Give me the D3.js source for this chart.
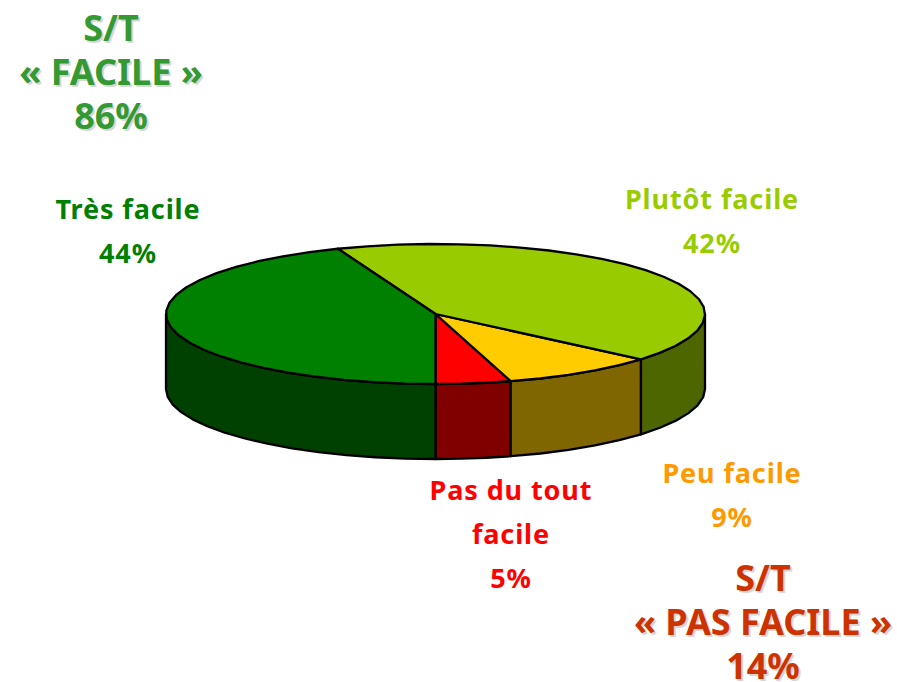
<!DOCTYPE html>
<html><head><meta charset="utf-8">
<script src="https://cdn.jsdelivr.net/npm/d3@7"></script>
<style>
html,body{margin:0;padding:0;background:#fff;overflow:hidden}
text{font-family:"Noto Sans",sans-serif;font-weight:700;text-anchor:middle}
.lab{letter-spacing:.9px}
.grp{text-shadow:2px 2px 1px #d4d4d4}
</style></head><body>
<svg id="c" width="897" height="682"></svg>
<script>
const categories=["Pas du tout facile","Peu facile","Plutôt facile","Très facile"];
const values=[4.5,9.3,42.1,44.1];
const topColors=["#FF0000","#FFCC00","#99CC00","#008000"];
const sideColors=["#800000","#806600","#4D6600","#004000"];
const labelLines=[["Pas du tout","facile","5%"],["Peu facile","9%"],["Plutôt facile","42%"],["Très facile","44%"]];
const labelColors=["#FF0000","#FF9900","#99CC00","#008000"];
const labelX=[511,732,712,128];
const labelY=[500,483,209,219];
const labelStep=[44,44,44,44];
const groupLines=[["S/T","« FACILE »","86%"],["S/T","« PAS FACILE »","14%"]];
const groupColors=["#339933","#CC3300"];
const groupX=[111,763];
const groupY=[41,591];

const svg=d3.select("#c");
// unit-disc projection -> page pixels
const x=d3.scaleLinear().domain([-1,1]).range([166,705]);
const y=d3.scaleLinear().domain([-1,1]).range([244,384]);
const depth=75;
const arcs=d3.pie().sort(null).startAngle(0).endAngle(2*Math.PI)(values);
const px=a=>x(Math.sin(a)), py=a=>y(Math.cos(a));
const samples=(a0,a1)=>{const n=Math.max(2,Math.ceil((a1-a0)/0.12));return d3.range(n+1).map(i=>a0+(a1-a0)*i/n)};
const line=d3.line();
const sideG=svg.append("g"),topG=svg.append("g");
function style(s,fill){s.attr("fill",fill).attr("stroke","#000").attr("stroke-width",2.3).attr("stroke-linejoin","round")}
const H=Math.PI/2;
arcs.forEach((d,i)=>{
  [[0,H],[3*H,4*H]].forEach(([lo,hi])=>{
    const a0=Math.max(d.startAngle,lo),a1=Math.min(d.endAngle,hi);
    if(a1<=a0)return;
    const s=samples(a0,a1);
    const pts=s.map(a=>[px(a),py(a)]).concat(s.slice().reverse().map(a=>[px(a),py(a)+depth]));
    style(sideG.append("path").attr("d",line(pts)+"Z"),sideColors[i]);
  });
  const pts=[[x(0),y(0)]].concat(samples(d.startAngle,d.endAngle).map(a=>[px(a),py(a)]));
  style(topG.append("path").attr("d",line(pts)+"Z"),topColors[i]);
});
const tg=svg.append("g");
categories.forEach((c,i)=>{
  labelLines[i].forEach((t,j)=>tg.append("text").attr("class","lab").attr("x",labelX[i]).attr("y",labelY[i]+j*labelStep[i]).attr("font-size",27).attr("fill",labelColors[i]).text(t));
});
groupLines.forEach((ls,i)=>ls.forEach((t,j)=>tg.append("text").attr("class","grp").attr("x",groupX[i]).attr("y",groupY[i]+j*44).attr("font-size",36).attr("fill",groupColors[i]).text(t)));
</script></body></html>
